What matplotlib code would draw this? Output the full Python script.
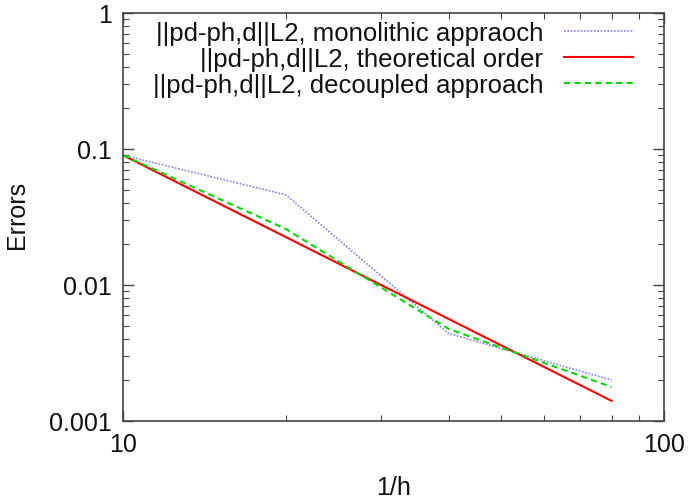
import matplotlib
matplotlib.use("Agg")
import matplotlib.pyplot as plt
from matplotlib.ticker import LogLocator, NullFormatter, FixedLocator, FixedFormatter

plt.rcParams['font.family'] = ['Liberation Sans', 'DejaVu Sans']

h_inv = [10, 20, 40, 80]
mono = [0.090, 0.046, 0.0044, 0.0020]
theo = [0.090, 0.0225, 0.005625, 0.00140625]
decoupled = [0.090, 0.0258, 0.00475, 0.00178]

labels = ["||pd-ph,d||L2, monolithic appraoch",
          "||pd-ph,d||L2, theoretical order",
          "||pd-ph,d||L2, decoupled approach"]

W, H = 692, 502
L, R, T, B = 123, 664, 14, 422
fig = plt.figure(figsize=(W/100, H/100), dpi=100)
ax = fig.add_axes([L/W, 1-B/H, (R-L)/W, (B-T)/H])

ax.plot(h_inv, mono, color='#8080ff', linestyle=(0, (1, 1)), lw=1.2, label=labels[0])
ax.plot(h_inv, theo, color='#ff0000', linestyle='-', lw=1.5, label=labels[1])
ax.plot(h_inv, decoupled, color='#00dd00', linestyle=(0, (3, 2)), lw=1.5, label=labels[2])

ax.set_xscale('log')
ax.set_yscale('log')
ax.set_xlim(10, 100)
ax.set_ylim(0.001, 1)

ax.xaxis.set_major_locator(FixedLocator([10, 100]))
ax.xaxis.set_major_formatter(FixedFormatter(['10', '100']))
ax.yaxis.set_major_locator(FixedLocator([0.001, 0.01, 0.1, 1]))
ax.yaxis.set_major_formatter(FixedFormatter(['0.001', '0.01', '0.1', '1']))
ax.xaxis.set_minor_locator(LogLocator(base=10, subs=range(2, 10)))
ax.yaxis.set_minor_locator(LogLocator(base=10, subs=range(2, 10)))
ax.xaxis.set_minor_formatter(NullFormatter())
ax.yaxis.set_minor_formatter(NullFormatter())

ax.tick_params(which='both', direction='in', top=True, right=True, colors='#444444', labelcolor='#111111', labelsize=18)
ax.tick_params(which='major', length=8, width=1, pad=8)
ax.tick_params(which='minor', length=4, width=0.8)
for s in ax.spines.values():
    s.set_color('#444444')
    s.set_linewidth(1.2)

ax.set_xlabel('1/h', fontsize=18, color='#111111')
ax.set_ylabel('Errors', fontsize=18, color='#111111')
ax.xaxis.set_label_coords(0.5, (B - 476) / (B - T))
ax.yaxis.set_label_coords((29 - L) / (R - L), (B - 215) / (B - T))

leg = ax.legend(loc='upper right', bbox_to_anchor=(633/W, 1-22/H), bbox_transform=fig.transFigure,
                frameon=False, fontsize=18.5,
                markerfirst=False, handlelength=2.7, handletextpad=0.8, labelspacing=0.08,
                borderaxespad=0, borderpad=0)
for t in leg.get_texts():
    t.set_ha('right')
    t.set_color('#111111')
leg._legend_box.align = 'right'

fig.savefig('out.png', dpi=100)
